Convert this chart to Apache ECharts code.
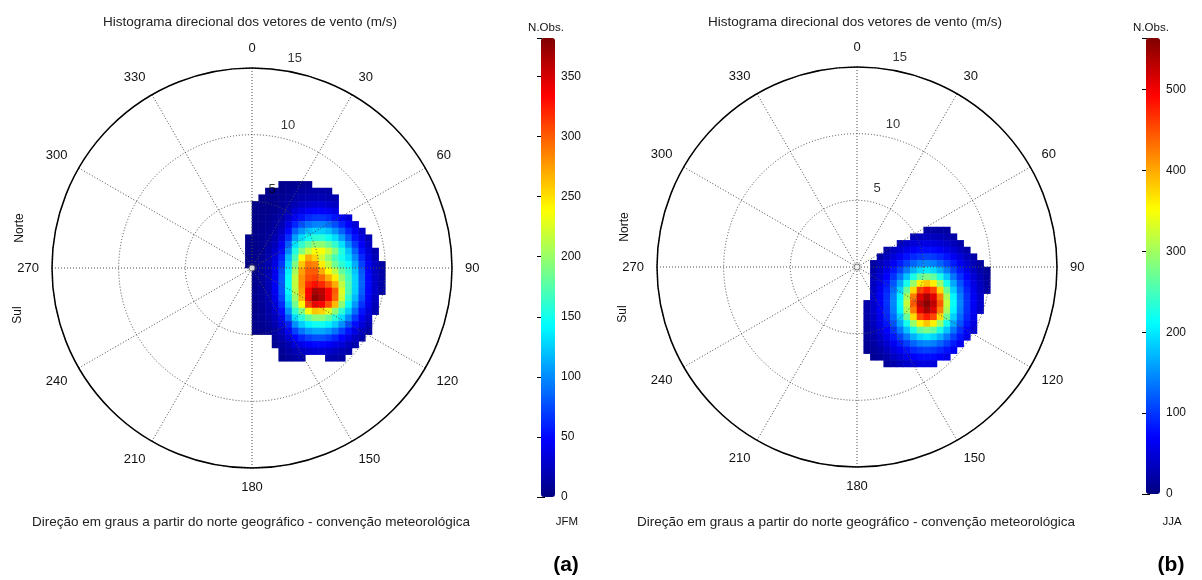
<!DOCTYPE html>
<html>
<head>
<meta charset="utf-8">
<script src="https://cdn.jsdelivr.net/npm/echarts@6/dist/echarts.min.js"></script>
<style>
  html, body { margin: 0; padding: 0; background: #fff; }
  #chart { width: 1202px; height: 580px; }
</style>
</head>
<body>
<div id="chart"></div>
<script>
// Directional histograms of wind vectors, 0.5 m/s (u, v) bins on a polar speed/direction frame.

const speedRings = [5, 10, 15];            // m/s rings of the polar frame

// ---- JFM ----
const jfmU = [-0.25, 0.25, 0.75, 1.25, 1.75, 2.25, 2.75, 3.25, 3.75, 4.25, 4.75, 5.25, 5.75, 6.25, 6.75, 7.25, 7.75, 8.25, 8.75, 9.25, 9.75];
const jfmV = [6.25, 5.75, 5.25, 4.75, 4.25, 3.75, 3.25, 2.75, 2.25, 1.75, 1.25, 0.75, 0.25, -0.25, -0.75, -1.25, -1.75, -2.25, -2.75, -3.25, -3.75, -4.25, -4.75, -5.25, -5.75, -6.25, -6.75];
// number of observations per bin, rows from north (top) to south, columns west to east; 0 = empty bin
const jfmCounts = [
  [0,0,0,0,0,5,6,7,8,9,0,0,0,0,0,0,0,0,0,0,0],
  [0,0,0,4,4,5,7,10,12,14,15,15,14,0,0,0,0,0,0,0,0],
  [0,0,4,4,5,7,10,15,17,19,20,20,19,17,0,0,0,0,0,0,0],
  [0,3,4,4,6,9,14,20,26,29,32,32,29,26,0,0,0,0,0,0,0],
  [0,3,4,5,7,11,19,31,38,44,47,47,44,38,0,0,0,0,0,0,0],
  [0,3,4,6,10,16,27,44,54,63,67,67,63,54,44,33,0,0,0,0,0],
  [0,3,5,7,12,20,37,61,77,89,96,96,89,77,61,46,32,0,0,0,0],
  [0,4,6,9,16,26,50,84,103,119,126,126,119,103,84,61,43,28,0,0,0],
  [4,5,6,11,18,34,64,107,131,148,158,158,148,131,107,80,55,36,21,0,0],
  [4,5,7,13,22,43,82,132,162,181,196,196,181,162,132,100,70,45,27,0,0],
  [4,5,8,15,28,51,98,155,191,218,237,237,218,191,155,121,85,54,33,18,0],
  [4,5,9,17,33,60,116,170,235,270,255,220,195,170,150,130,99,63,38,21,0],
  [4,6,10,18,37,67,128,190,260,290,285,245,215,185,160,145,112,72,43,24,14],
  [0,6,10,19,40,75,137,205,275,300,300,270,240,215,180,160,121,80,47,26,15],
  [0,6,11,20,42,79,143,215,280,305,310,295,270,245,200,168,127,84,49,28,16],
  [0,6,11,20,43,80,146,215,280,320,330,320,300,270,215,172,128,85,50,28,16],
  [0,6,11,20,42,79,142,212,275,335,365,360,335,300,225,170,126,83,49,28,16],
  [0,6,10,19,39,73,134,200,265,335,376,365,335,295,220,160,118,76,45,25,0],
  [0,5,9,17,34,63,121,185,240,310,340,335,305,265,195,143,104,66,40,22,0],
  [0,5,8,15,28,52,101,160,190,235,260,255,230,195,160,124,88,55,34,19,0],
  [0,5,7,13,22,42,81,130,158,180,194,194,180,158,130,99,69,44,27,0,0],
  [0,4,6,10,18,33,59,101,124,140,149,149,140,124,101,76,52,34,20,0,0],
  [0,4,5,8,14,23,44,72,91,104,110,110,104,91,72,54,38,24,16,0,0],
  [0,0,0,0,10,17,30,49,61,71,77,77,71,61,49,37,26,17,0,0,0],
  [0,0,0,0,7,12,19,33,40,46,50,50,46,40,33,24,17,0,0,0,0],
  [0,0,0,0,0,8,14,20,25,29,31,31,29,25,20,16,0,0,0,0,0],
  [0,0,0,0,0,6,9,13,16,0,0,0,17,16,13,0,0,0,0,0,0]
];
const jfmMax = 382;
const jfmBarTicks = [0, 50, 100, 150, 200, 250, 300, 350];

// ---- JJA ----
const jjaU = [0.25, 0.75, 1.25, 1.75, 2.25, 2.75, 3.25, 3.75, 4.25, 4.75, 5.25, 5.75, 6.25, 6.75, 7.25, 7.75, 8.25, 8.75, 9.25, 9.75];
const jjaV = [2.75, 2.25, 1.75, 1.25, 0.75, 0.25, -0.25, -0.75, -1.25, -1.75, -2.25, -2.75, -3.25, -3.75, -4.25, -4.75, -5.25, -5.75, -6.25, -6.75, -7.25];
const jjaCounts = [
  [0,0,0,0,0,0,0,0,0,0,21,20,19,17,0,0,0,0,0,0],
  [0,0,0,0,0,0,0,0,32,35,36,35,32,26,21,0,0,0,0,0],
  [0,0,0,0,0,0,32,40,48,52,54,52,48,40,32,24,0,0,0,0],
  [0,0,0,0,24,36,47,58,67,75,77,75,67,58,47,36,24,0,0,0],
  [0,0,0,23,35,50,64,80,92,101,105,101,92,80,64,50,35,23,0,0],
  [0,0,19,31,46,64,85,105,125,140,145,140,125,105,85,64,46,31,19,0],
  [0,0,24,38,58,82,107,138,168,190,200,190,168,138,107,82,58,38,24,15],
  [0,0,30,48,70,98,135,178,225,265,280,265,225,178,135,98,70,48,30,17],
  [0,0,35,55,82,117,163,222,295,360,385,360,295,222,163,117,82,55,35,19],
  [0,0,38,60,90,130,186,270,372,455,480,455,372,270,186,130,90,60,38,22],
  [0,0,41,65,96,141,207,305,425,510,540,510,425,305,207,141,96,65,41,0],
  [0,24,42,66,98,145,215,320,445,530,558,530,445,320,215,145,98,66,42,0],
  [0,24,41,65,96,141,207,305,425,510,540,510,425,305,207,141,96,65,41,0],
  [0,22,38,60,90,130,186,270,372,455,480,455,372,270,186,130,90,60,0,0],
  [0,19,35,55,82,117,163,222,295,360,385,360,295,222,163,117,82,55,0,0],
  [0,17,30,48,70,98,135,178,225,265,280,265,225,178,135,98,70,48,0,0],
  [0,15,24,38,58,82,107,138,168,190,200,190,168,138,107,82,58,0,0,0],
  [0,13,19,31,46,64,85,105,125,140,145,140,125,105,85,64,0,0,0,0],
  [0,11,15,23,35,50,64,80,92,101,105,101,92,80,64,0,0,0,0,0],
  [0,0,12,17,24,36,47,58,67,75,77,75,67,58,0,0,0,0,0,0],
  [0,0,0,0,17,24,32,40,48,52,54,52,0,0,0,0,0,0,0,0]
];
const jjaMax = 564;
const jjaBarTicks = [0, 100, 200, 300, 400, 500];

// ---- layout / style ----
const FONT = 'Arial, "Liberation Sans", sans-serif';
const TEXT = '#111';
const R = 200;                       // polar radius in px
const RMAX = speedRings[speedRings.length - 1];
const K = R / RMAX;                  // px per m/s
const LABEL_RMAX = RMAX + 2;         // outer frame used to place ring labels
const JET = ['#000080', '#0000ff', '#0080ff', '#00ffff', '#80ff80', '#ffff00', '#ff8000', '#ff0000', '#800000'];
const RING_LABEL_DR = 1.05;          // m/s outward shift of the ring labels
const RING_LABEL_ANGLE = [14.4, 14.1, 11.5];

const panels = [
  { cx: 252, cy: 268, u: jfmU, v: jfmV, counts: jfmCounts, max: jfmMax, ticks: jfmBarTicks,
    barLeft: 541, barTop: 38, barH: 459, season: 'JFM', tag: '(a)' },
  { cx: 857, cy: 267, u: jjaU, v: jjaV, counts: jjaCounts, max: jjaMax, ticks: jjaBarTicks,
    barLeft: 1146, barTop: 38, barH: 456, season: 'JJA', tag: '(b)' }
];

function toCells(counts) {
  const out = [];
  counts.forEach((row, j) => row.forEach((c, i) => { if (c > 0) out.push([i, j, c]); }));
  return out;
}

const option = {
  animation: false,
  backgroundColor: '#fff',
  polar: [], angleAxis: [], radiusAxis: [],
  grid: [], xAxis: [], yAxis: [],
  visualMap: [], series: [], graphic: []
};

const dotted = { color: '#4a4a4a', width: 1, type: [1, 2] };

panels.forEach((p, k) => {
  // polar frame
  option.polar.push({ center: [p.cx, p.cy], radius: R });
  option.angleAxis.push({
    polarIndex: k, type: 'value', min: 0, max: 360, interval: 30,
    startAngle: 90, clockwise: true, z: 3,
    axisLine: { lineStyle: { color: '#000', width: 1.5 } },
    axisTick: { show: false },
    axisLabel: { margin: 13, color: TEXT, fontSize: 13, fontFamily: FONT },
    splitLine: { show: true, lineStyle: dotted }
  });
  option.radiusAxis.push({
    polarIndex: k, type: 'value', min: 0, max: RMAX, interval: 5, z: 3,
    axisLine: { show: false }, axisTick: { show: false }, axisLabel: { show: false },
    splitLine: { show: true, lineStyle: dotted }
  });

  // cartesian grid carrying the (u, v) bins, scaled to the polar frame
  const bw = p.u[1] - p.u[0];
  option.grid.push({
    left: p.cx + (p.u[0] - bw / 2) * K,
    width: p.u.length * bw * K,
    top: p.cy - (p.v[0] + bw / 2) * K,
    height: p.v.length * bw * K,
    containLabel: false
  });
  option.xAxis.push({ gridIndex: k, type: 'category', data: p.u.map(String), show: false });
  option.yAxis.push({ gridIndex: k, type: 'category', data: p.v.map(String), inverse: true, show: false });
});

// wider invisible polar frames that hold the ring value labels
panels.forEach((p, k) => {
  option.polar.push({ center: [p.cx, p.cy], radius: R * LABEL_RMAX / RMAX });
  option.angleAxis.push({ polarIndex: 2 + k, type: 'value', min: 0, max: 360, startAngle: 90, clockwise: true, show: false });
  option.radiusAxis.push({ polarIndex: 2 + k, type: 'value', min: 0, max: LABEL_RMAX, show: false });
});

// colour-bar axes
panels.forEach((p, k) => {
  const gi = 2 + k;
  option.grid.push({ left: p.barLeft, top: p.barTop, width: 14, height: p.barH });
  option.xAxis.push({ gridIndex: gi, type: 'value', show: false, min: 0, max: 1 });
  const step = p.ticks[1] - p.ticks[0];
  option.yAxis.push({
    gridIndex: gi, type: 'value', min: 0, max: p.max, interval: step, position: 'right',
    axisLine: { show: false }, splitLine: { show: false },
    axisTick: { show: true, inside: true, length: 4, lineStyle: { color: '#000' } },
    axisLabel: { margin: 6, color: TEXT, fontSize: 12, fontFamily: FONT,
      formatter: (val) => (p.ticks.indexOf(val) >= 0 ? String(val) : '') }
  });
  option.yAxis.push({
    gridIndex: gi, type: 'value', min: 0, max: p.max, interval: step, position: 'left',
    axisLine: { show: false }, splitLine: { show: false }, axisLabel: { show: false },
    axisTick: { show: true, inside: true, length: 4, lineStyle: { color: '#000' } }
  });
});

panels.forEach((p, k) => {
  option.series.push({
    type: 'heatmap', xAxisIndex: k, yAxisIndex: k, z: 1, silent: true,
    data: toCells(p.counts), itemStyle: { borderWidth: 0 }, emphasis: { disabled: true }
  });
});

panels.forEach((p, k) => {
  option.visualMap.push({
    type: 'continuous', seriesIndex: k, dimension: 2, min: 0, max: p.max,
    calculable: false, hoverLink: false, realtime: false, orient: 'vertical',
    left: p.barLeft, top: p.barTop, itemWidth: 14, itemHeight: p.barH, padding: 0,
    inRange: { color: JET }, textStyle: { color: 'transparent' }
  });

  // ring value labels
  option.series.push({
    type: 'scatter', coordinateSystem: 'polar', polarIndex: 2 + k, z: 5, silent: true,
    symbolSize: 1, itemStyle: { color: 'rgba(0,0,0,0)' },
    data: speedRings.map((t, n) => ({ value: [t + RING_LABEL_DR, RING_LABEL_ANGLE[n]], label: { formatter: String(t) } })),
    label: { show: true, position: 'inside', color: '#000', textBorderWidth: 0, fontSize: 13, fontFamily: FONT }
  });
  // origin marker
  option.series.push({
    type: 'scatter', coordinateSystem: 'polar', polarIndex: k, z: 4, silent: true,
    symbol: 'circle', symbolSize: 6, data: [[0, 0]],
    itemStyle: { color: '#fff', borderColor: '#555', borderWidth: 1 }
  });

  const t = (x, y, text, extra) => ({
    type: 'text', x: x, y: y, silent: true,
    style: Object.assign({ text: text, fill: TEXT, font: '12px ' + FONT, align: 'center', verticalAlign: 'middle' }, extra || {})
  });
  option.graphic.push(
    t(p.cx - 2, 22, 'Histograma direcional dos vetores de vento (m/s)', { fill: '#222', font: '13.5px ' + FONT }),
    t(p.barLeft + 5, 28, 'N.Obs.', { font: '11.5px ' + FONT }),
    Object.assign(t(p.cx - 232, p.cy - 40, 'Norte'), { rotation: Math.PI / 2 }),
    Object.assign(t(p.cx - 234, p.cy + 47, 'Sul'), { rotation: Math.PI / 2 }),
    t(p.cx - 1, 522, 'Direção em graus a partir do norte geográfico - convenção meteorológica', { fill: '#222', font: '13.5px ' + FONT }),
    t(p.barLeft + 26, 522, p.season, { font: '11.5px ' + FONT }),
    t(p.barLeft + 25, 565, p.tag, { font: 'bold 21px ' + FONT, fill: '#000' })
  );
});

const chart = echarts.init(document.getElementById('chart'), null, { renderer: 'canvas' });
chart.setOption(option);
</script>
</body>
</html>
